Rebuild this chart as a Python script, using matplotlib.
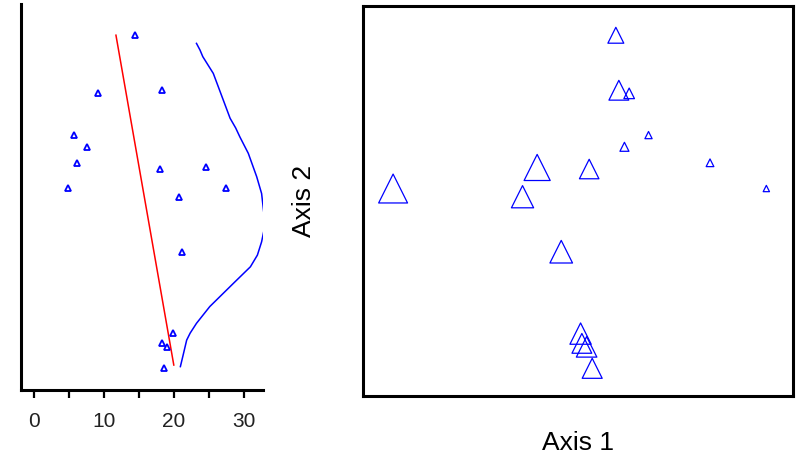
import numpy as np
import matplotlib
matplotlib.use('Agg')
import matplotlib.pyplot as plt


# %% Data

# ordination scores for the 16 sites
axis1 = [5.88, 5.95, 6.19, 6.64, 6.08, 8.07, 9.38, 4.05,
         5.26, 0.70, 3.71, 4.61, 5.06, 5.09, 5.20, 5.33]
axis2 = [9.28, 7.87, 7.79, 6.72, 6.42, 6.01, 5.35, 5.89,
         5.85, 5.35, 5.14, 3.73, 1.63, 1.38, 1.29, 0.74]

# variable overlaid on the ordination (x of the left panel, symbol size on the right)
env = [14.4, 18.3, 9.1, 5.7, 7.5, 6.2, 4.8, 24.6,
       18.0, 27.4, 20.7, 21.1, 19.8, 18.3, 19.0, 18.5]

# fitted straight line (env vs axis 2)
line_env = [11.7, 19.96]
line_axis2 = [9.28, 0.82]

# smooth curve drawn on the right side of the left panel
curve_env = [23.2, 23.7, 24.1, 25.6, 28.0, 28.8, 29.4, 30.6, 31.8, 32.5, 32.8, 33.3,
             32.8, 32.5, 31.9, 30.9, 28.5, 25.1, 23.2, 22.3, 21.8, 21.3, 20.9]
curve_axis2 = [9.07, 8.90, 8.73, 8.30, 7.15, 6.90, 6.67, 6.25, 5.65, 5.22, 4.75, 4.50,
               4.24, 3.98, 3.64, 3.34, 2.92, 2.32, 1.89, 1.64, 1.46, 1.08, 0.78]

xticks = [0, 5, 10, 15, 20, 25, 30]
xticklabels = ['0', '', '10', '', '20', '', '30']


# %% Plot

blue = '#0000ff'
fig = plt.figure(figsize=(7.96, 4.55), dpi=100)

# left panel: env vs axis 2
ax1 = fig.add_axes([21/796, 65/455, 242/796, 386/455])
ax1.plot(line_env, line_axis2, color='#ff0000', lw=1.1)
ax1.plot(curve_env, curve_axis2, color=blue, lw=1.1)
ax1.plot(env, axis2, ls='none', marker='^', ms=5, mfc='none', mec=blue, mew=1.3)

ax1.set_xlim(-1.86, 32.7)
ax1.set_ylim(0.18, 10.08)
for side in ['top', 'right']:
    ax1.spines[side].set_visible(False)
for side in ['left', 'bottom']:
    ax1.spines[side].set_linewidth(2.2)
ax1.set_yticks([])
ax1.set_xticks(xticks)
ax1.set_xticklabels(xticklabels, family='Liberation Sans', fontsize=15, color='#222222')
ax1.tick_params(axis='x', direction='out', length=6, width=1.6, pad=10)

# right panel: ordination with symbol size scaled by env
ax2 = fig.add_axes([363/796, 59/455, 430/796, 390/455])
sizes = [(0.72 * (v + 1.5))**2 for v in env]
ax2.scatter(axis1, axis2, s=sizes, marker='^', facecolors='none',
            edgecolors=blue, linewidths=0.9)
ax2.set_xlim(0, 10)
ax2.set_ylim(0.03, 10.03)
ax2.set_xticks([])
ax2.set_yticks([])
for side in ax2.spines:
    ax2.spines[side].set_linewidth(2.2)

ax2.set_xlabel('Axis 1', family='Liberation Sans', fontsize=19, labelpad=25)
ax2.set_ylabel('Axis 2', family='Liberation Sans', fontsize=19, labelpad=34)

fig.savefig('out.png', dpi=100)
